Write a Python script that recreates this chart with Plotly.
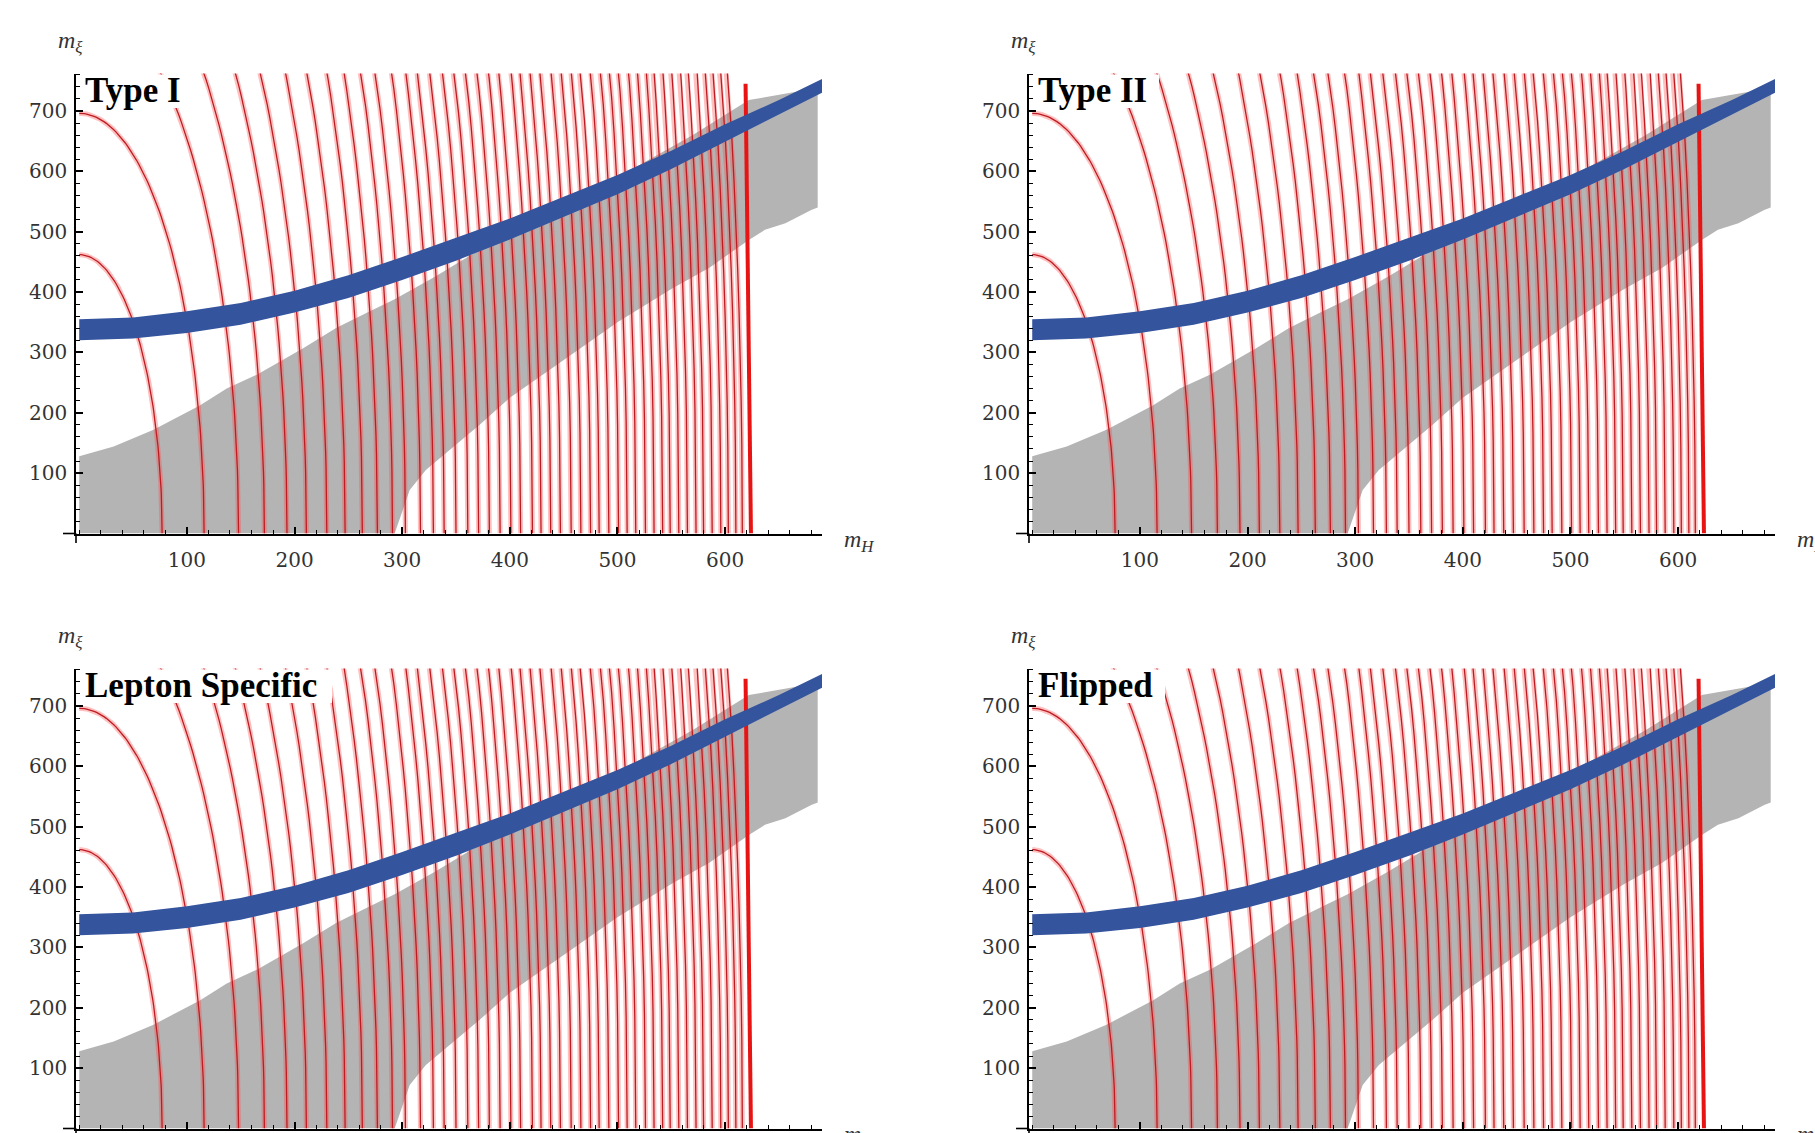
import numpy as np
import plotly.graph_objects as go

# ---------------- data ----------------
panel_titles = ["Type I", "Type II", "Lepton Specific", "Flipped"]

x_ticks = [100, 200, 300, 400, 500, 600]
y_ticks = [100, 200, 300, 400, 500, 600, 700]
x_range = [-3, 690]
y_range = [0, 762]

# grey allowed region: upper boundary (left -> right), lower boundary (right -> left)
gray_upper_x = [0, 32, 69, 112, 137, 165, 208, 239, 270, 293, 330, 372, 420, 470, 520, 570, 622, 686]
gray_upper_y = [128, 144, 172, 212, 240, 263, 307, 341, 368, 388, 425, 470, 515, 565, 610, 660, 718, 738]
gray_lower_x = [686, 680, 656, 637, 622, 585, 550, 500, 464, 430, 400, 372, 353, 322, 307, 300, 293, 0]
gray_lower_y = [540, 536, 514, 503, 486, 440, 405, 350, 305, 262, 225, 180, 152, 105, 72, 34, 0, 0]

# red contour lines: x-intercepts (m_H at m_xi = 0) and the ellipse aspect ratio
contour_intercepts = [77, 116, 148, 172, 193, 211, 230, 247, 263, 277, 291, 303, 317, 329,
                      339, 350, 361, 371, 381, 391, 401, 410, 421, 429, 438, 447, 457, 466,
                      475, 483, 492, 501, 509, 517, 526, 534, 542, 549, 557, 565, 573, 580,
                      588, 596, 603, 610, 616]
contour_aspect = 6.0

# thick red boundary line
edge_x = [619, 624]
edge_y = [745, 0]

# blue band
blue_x = [0, 25, 50, 100, 150, 200, 250, 300, 350, 400, 450, 500, 550, 600, 650, 690]
blue_lo = [320, 321, 323, 332, 346, 366, 390, 420, 452, 487, 524, 562, 604, 650, 694, 730]
blue_hi = [355, 356, 358, 368, 382, 402, 428, 458, 490, 522, 558, 594, 634, 678, 718, 753]

# ---------------- layout helpers ----------------
W, H = 1815, 1133
def px(x):
    return x / W
def py(y):
    return 1 - y / H

offsets = [(0, 0), (953, 0), (0, 595), (953, 595)]
title_box_w = [112, 124, 250, 130]

TITLE_FONT = "Liberation Serif"
TICK_FONT = "DejaVu Serif"
fig = go.Figure()

# contour geometry
t = np.linspace(0, np.pi / 2, 80)
cx, cy = [], []
for a in contour_intercepts:
    cx += list(a * np.cos(t)) + [None]
    cy += list(contour_aspect * a * np.sin(t)) + [None]

layout = dict(width=W, height=H, margin=dict(l=0, r=0, t=0, b=0, autoexpand=False),
              paper_bgcolor="white", plot_bgcolor="white", showlegend=False,
              template="none")
shapes = []
annotations = []

for i, (dx, dy) in enumerate(offsets):
    xa = "x" if i == 0 else f"x{i+1}"
    ya = "y" if i == 0 else f"y{i+1}"
    common = dict(xaxis=xa, yaxis=ya, showlegend=False, hoverinfo="skip")
    fig.add_trace(go.Scatter(x=gray_upper_x + gray_lower_x, y=gray_upper_y + gray_lower_y,
                             fill="toself", fillcolor="#b4b4b4", mode="lines",
                             line=dict(width=0, color="#b4b4b4"), **common))
    fig.add_trace(go.Scatter(x=cx, y=cy, mode="lines",
                             line=dict(color="rgba(255,70,70,0.34)", width=5), **common))
    fig.add_trace(go.Scatter(x=cx, y=cy, mode="lines",
                             line=dict(color="rgb(188,28,34)", width=1.3), **common))
    fig.add_trace(go.Scatter(x=edge_x, y=edge_y, mode="lines",
                             line=dict(color="rgb(232,20,20)", width=4), **common))
    fig.add_trace(go.Scatter(x=blue_x + blue_x[::-1], y=blue_hi + blue_lo[::-1],
                             fill="toself", fillcolor="rgb(52,84,158)", mode="lines",
                             line=dict(width=0, color="rgb(52,84,158)"), **common))

    xkey = "xaxis" if i == 0 else f"xaxis{i+1}"
    ykey = "yaxis" if i == 0 else f"yaxis{i+1}"
    layout[xkey] = dict(domain=[px(76 + dx), px(822 + dx)], range=x_range, anchor=ya,
                        automargin=False,
                        showline=True, linecolor="black", linewidth=1.6,
                        ticks="inside", ticklen=7, tickwidth=1.6, tickcolor="black",
                        tickvals=x_ticks, ticktext=[str(v) for v in x_ticks],
                        tickfont=dict(family=TICK_FONT, size=20, color="#333"),
                        ticklabelstandoff=8,
                        minor=dict(dtick=20, tick0=0, ticks="inside", ticklen=4,
                                   tickwidth=1, tickcolor="black", showgrid=False),
                        showgrid=False, zeroline=False, fixedrange=True)
    layout[ykey] = dict(domain=[py(533.5 + dy), py(73.5 + dy)], range=y_range, anchor=xa,
                        automargin=False,
                        showline=True, linecolor="black", linewidth=1.6,
                        ticks="inside", ticklen=7, tickwidth=1.6, tickcolor="black",
                        tickvals=y_ticks, ticktext=[str(v) for v in y_ticks],
                        tickfont=dict(family=TICK_FONT, size=20, color="#333"),
                        ticklabelstandoff=3,
                        minor=dict(dtick=20, tick0=0, ticks="inside", ticklen=4,
                                   tickwidth=1, tickcolor="black", showgrid=False),
                        showgrid=False, zeroline=False, fixedrange=True)

    # axis extensions beyond the crossing point
    shapes.append(dict(type="line", xref="paper", yref="paper",
                       x0=px(63 + dx), x1=px(76 + dx), y0=py(533.5 + dy), y1=py(533.5 + dy),
                       line=dict(color="black", width=1.6)))
    shapes.append(dict(type="line", xref="paper", yref="paper",
                       x0=px(76 + dx), x1=px(76 + dx), y0=py(533.5 + dy), y1=py(543 + dy),
                       line=dict(color="black", width=1.6)))
    # white box behind the panel title
    shapes.append(dict(type="rect", xref="paper", yref="paper", layer="above",
                       x0=px(82 + dx), x1=px(82 + dx + title_box_w[i]),
                       y0=py(74.5 + dy), y1=py(108 + dy),
                       fillcolor="white", line=dict(width=0)))

    annotations.append(dict(xref="paper", yref="paper", x=px(83 + dx), y=py(69 + dy),
                            xanchor="left", yanchor="top", showarrow=False,
                            text=f"<b>{panel_titles[i]}</b>",
                            font=dict(family=TITLE_FONT, size=35, color="black")))
    annotations.append(dict(xref="paper", yref="paper", x=px(56 + dx), y=py(42 + dy),
                            xanchor="left", yanchor="middle", showarrow=False,
                            text="<i>m</i><sub><i>ξ</i></sub>",
                            font=dict(family=TITLE_FONT, size=24, color="#333")))
    annotations.append(dict(xref="paper", yref="paper", x=px(842 + dx), y=py(541 + dy),
                            xanchor="left", yanchor="middle", showarrow=False,
                            text="<i>m</i><sub><i>H</i></sub>",
                            font=dict(family=TITLE_FONT, size=24, color="#333")))

layout["shapes"] = shapes
layout["annotations"] = annotations
fig.update_layout(**layout)
fig.write_html("out.html")
